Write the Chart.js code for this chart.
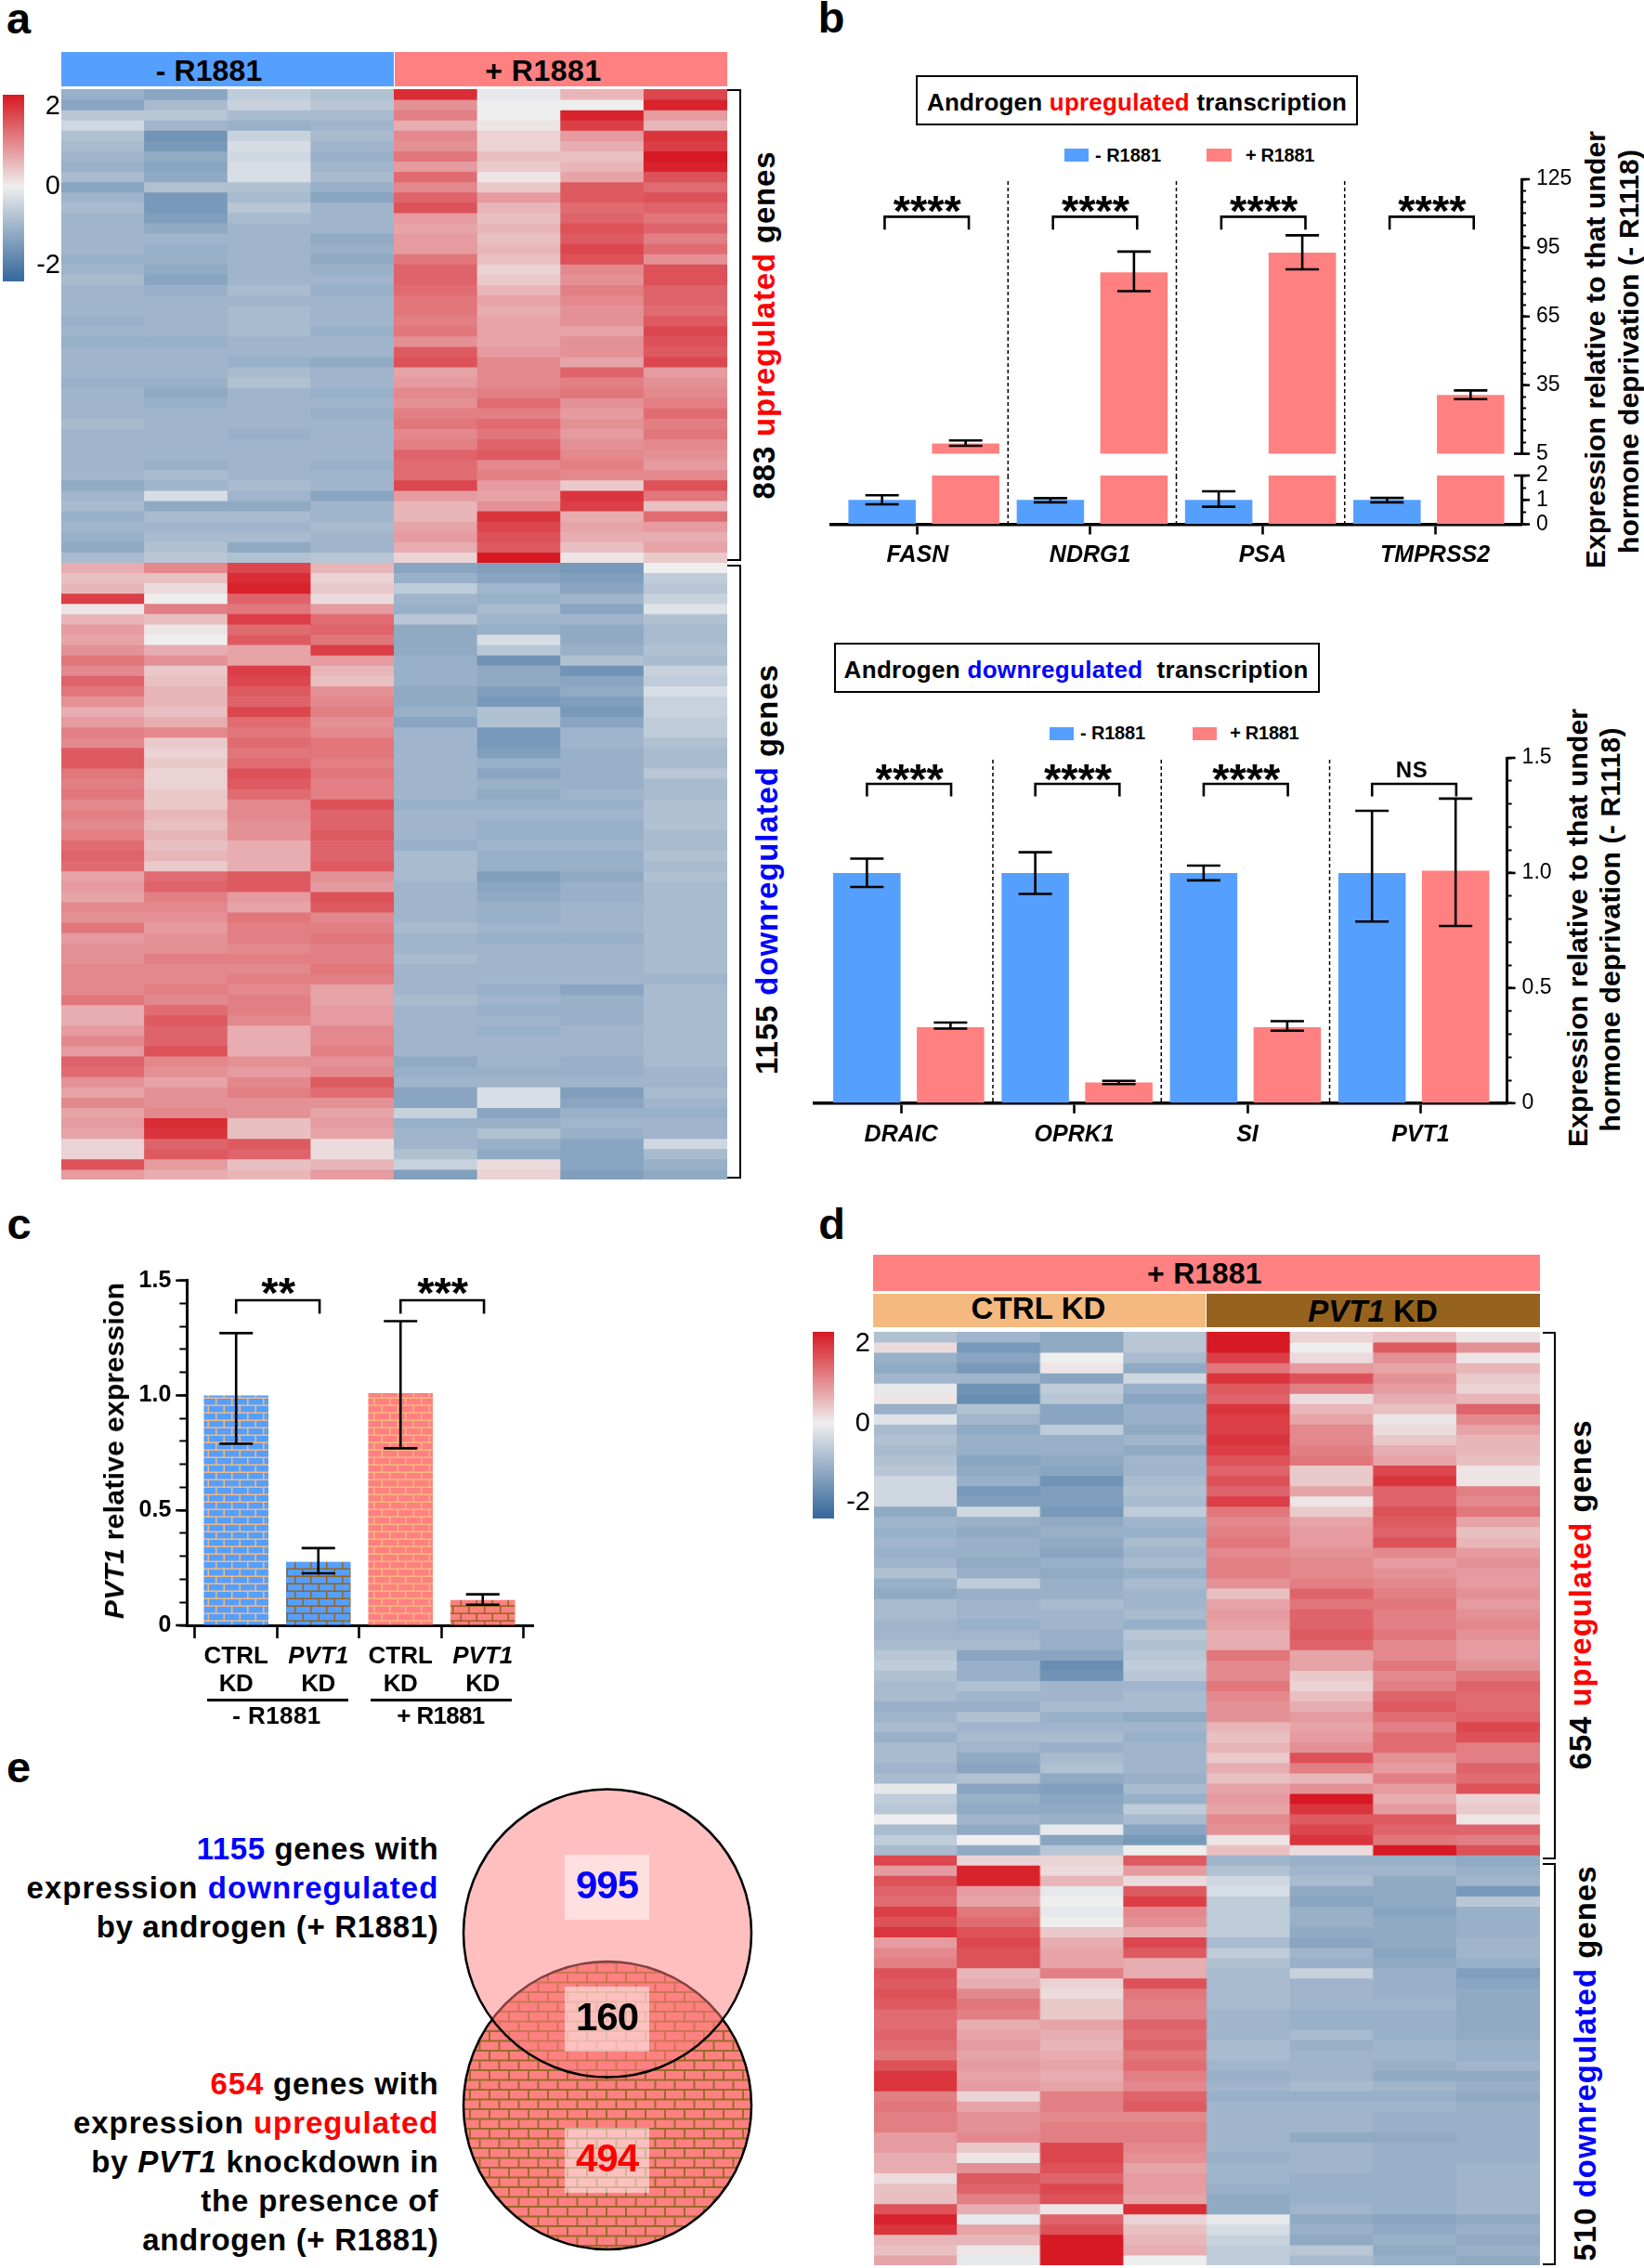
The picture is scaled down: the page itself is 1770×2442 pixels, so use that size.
<!DOCTYPE html>
<html>
<head>
<meta charset="utf-8">
<title>R1881 PVT1 figure</title>
<script src="https://cdn.jsdelivr.net/npm/chart.js@4"></script>
<style>
html, body { margin: 0; padding: 0; background: #fff; }
#page { position: relative; width: 1770px; height: 2442px; overflow: hidden; font-family: "Liberation Sans", Arial, sans-serif; color: #000; }
#page canvas, #page div { position: absolute; }
</style>
</head>
<body>
<div id="page"></div>
<script>
// heatmap cells, z-score x 10, one row per line, 4 - R1881 columns then 4 + R1881 columns
const heatAUp = [
[-11,-13,-6,-8,21,-1,6,18],[-13,-9,-5,-7,10,0,0,22],[-7,-7,-9,-9,12,0,22,9],[-4,-10,-11,-10,7,1,19,6],
[-8,-16,-5,-9,11,3,9,20],[-9,-15,-3,-10,10,3,7,19],[-10,-12,-4,-11,13,5,5,23],[-11,-13,-3,-10,9,4,6,22],
[-9,-12,-3,-9,14,1,8,17],[-13,-8,-8,-11,11,4,16,14],[-10,-15,-9,-13,15,9,16,17],[-9,-15,-7,-10,17,6,14,15],
[-10,-14,-9,-10,9,5,15,13],[-10,-12,-10,-10,8,6,17,15],[-10,-10,-10,-12,9,5,16,12],[-10,-11,-10,-11,9,6,18,14],
[-11,-11,-10,-12,13,5,17,10],[-10,-12,-10,-11,15,3,11,17],[-9,-13,-10,-10,15,4,10,17],[-10,-11,-9,-11,14,6,12,15],
[-10,-10,-10,-10,13,8,11,15],[-10,-10,-9,-10,13,7,10,14],[-11,-10,-9,-10,12,8,10,16],[-10,-10,-9,-11,13,8,8,18],
[-11,-11,-10,-10,10,8,10,17],[-10,-10,-10,-10,16,9,10,16],[-10,-10,-11,-12,17,11,8,18],[-10,-10,-9,-10,8,11,15,9],
[-11,-11,-8,-10,9,11,12,10],[-10,-12,-10,-11,11,12,13,11],[-10,-11,-10,-10,10,14,10,12],[-10,-10,-10,-11,12,12,9,14],
[-9,-10,-10,-10,13,14,10,12],[-10,-10,-11,-10,11,13,9,13],[-10,-10,-10,-10,12,15,10,11],[-10,-10,-10,-10,15,16,11,10],
[-10,-11,-10,-11,14,11,12,9],[-10,-9,-10,-10,14,12,11,11],[-12,-10,-9,-10,18,9,4,17],[-10,-3,-10,-13,9,8,20,13],
[-9,-12,-12,-10,6,10,19,5],[-11,-9,-9,-10,6,20,7,14],[-10,-10,-10,-9,8,18,8,9],[-11,-9,-9,-10,9,17,7,7],
[-12,-8,-12,-10,7,16,5,8],[-9,-7,-8,-7,3,24,1,4]
];
const heatADown = [
[7,11,18,6,-13,-14,-15,0],[5,5,21,3,-11,-13,-14,-6],[6,2,22,4,-6,-10,-13,-7],[19,0,15,2,-10,-11,-10,-5],
[1,12,13,9,-11,-9,-13,-2],[6,5,19,14,-7,-10,-10,-8],[9,1,14,15,-12,-11,-12,-9],[8,0,16,13,-12,-3,-12,-9],
[10,7,8,19,-12,-7,-11,-8],[13,10,8,9,-11,-16,-8,-9],[11,4,19,6,-11,-12,-16,-5],[15,5,18,5,-11,-12,-13,-6],
[13,6,16,10,-12,-14,-12,-3],[10,6,15,11,-12,-15,-14,-5],[7,5,18,12,-11,-8,-15,-5],[9,7,14,10,-13,-8,-13,-6],
[12,11,13,11,-10,-15,-10,-6],[11,4,14,13,-10,-15,-10,-8],[16,3,13,13,-10,-14,-11,-9],[16,4,14,12,-10,-11,-11,-9],
[13,3,17,13,-10,-13,-11,-7],[12,3,16,12,-10,-11,-11,-9],[13,4,14,12,-10,-12,-10,-9],[11,4,11,17,-11,-11,-11,-8],
[12,6,11,15,-10,-10,-10,-8],[11,5,10,15,-10,-11,-11,-8],[12,6,10,16,-10,-11,-11,-9],[14,5,7,15,-11,-10,-10,-9],
[15,6,7,15,-9,-11,-11,-8],[14,4,7,16,-9,-11,-11,-9],[8,14,16,10,-9,-14,-12,-8],[9,15,16,9,-10,-13,-11,-9],
[8,12,9,17,-10,-12,-11,-9],[11,11,8,16,-10,-11,-10,-9],[10,10,13,11,-10,-11,-10,-9],[13,9,12,12,-9,-10,-10,-9],
[9,10,12,13,-10,-11,-11,-9],[10,10,11,12,-10,-10,-10,-9],[10,12,12,12,-9,-10,-10,-9],[11,11,11,13,-10,-10,-10,-9],
[11,11,12,12,-10,-10,-10,-10],[11,12,11,8,-10,-11,-13,-9],[13,11,12,8,-9,-10,-11,-9],[7,14,12,9,-10,-11,-11,-9],
[7,16,11,9,-10,-10,-11,-9],[9,15,7,11,-10,-11,-10,-9],[11,15,7,11,-10,-10,-10,-9],[9,17,7,12,-10,-10,-10,-9],
[15,11,10,10,-12,-10,-11,-9],[14,10,9,11,-11,-11,-11,-10],[10,8,11,16,-10,-10,-10,-10],[8,10,12,14,-13,-3,-14,-9],
[11,10,10,10,-13,-3,-13,-10],[8,11,10,8,-5,-13,-11,-11],[9,21,5,9,-11,-11,-10,-10],[8,20,5,8,-10,-8,-11,-10],
[3,15,16,2,-10,-11,-13,-4],[3,16,15,2,-8,-12,-13,-9],[17,9,5,6,-5,2,-13,-11],[9,7,6,9,-14,3,-14,-12]
];
const heatDUp = [
[-8,-10,-12,-7,24,3,5,1],[2,-15,-12,-7,24,0,16,10],[-11,-13,0,-9,19,2,10,1],[-12,-15,1,-12,13,9,8,6],
[-10,-10,-13,-4,20,17,10,4],[-1,-16,-6,-11,16,12,9,3],[1,-17,-7,-13,15,2,7,6],[-11,-8,-13,-11,20,6,5,15],
[-2,-10,-13,-11,19,8,1,11],[-9,-12,-6,-12,19,11,2,8],[-8,-11,-11,-10,20,11,4,6],[-9,-11,-11,-12,19,12,7,6],
[-8,-13,-12,-10,17,13,8,5],[-7,-12,-13,-10,15,4,18,1],[-4,-11,-16,-9,17,4,20,1],[-4,-15,-14,-8,15,8,15,12],
[-4,-14,-14,-9,19,1,15,11],[-12,-4,-15,-6,13,4,17,13],[-10,-11,-12,-10,11,8,16,8],[-11,-12,-11,-11,12,9,15,5],
[-10,-11,-12,-9,13,9,17,6],[-11,-11,-13,-10,11,10,11,9],[-10,-12,-11,-9,12,11,9,10],[-8,-11,-12,-11,12,11,10,9],
[-11,-6,-11,-9,10,12,11,9],[-12,-11,-11,-10,5,15,12,10],[-9,-10,-9,-10,8,13,13,9],[-9,-10,-10,-9,9,15,12,10],
[-10,-11,-10,-11,8,15,12,11],[-10,-10,-11,-7,7,16,13,10],[-9,-9,-11,-8,7,15,11,9],[-7,-13,-13,-7,13,8,11,9],
[-6,-11,-17,-6,11,8,13,10],[-8,-11,-16,-7,11,4,11,13],[-9,-8,-10,-10,13,3,12,15],[-9,-10,-10,-9,11,5,15,14],
[-11,-11,-9,-9,10,7,16,14],[-10,-8,-11,-12,10,9,14,15],[-9,-10,-10,-10,6,8,12,18],[-11,-9,-9,-11,5,9,14,17],
[-9,-10,-11,-10,6,10,14,12],[-9,-12,-9,-10,4,17,10,12],[-10,-13,-8,-10,7,12,9,15],[-9,-8,-12,-11,5,6,12,14],
[-1,-13,-14,-9,8,10,9,17],[-6,-11,-13,-11,9,24,7,3],[-7,-12,-12,-6,8,20,9,4],[0,-10,-11,-9,11,16,16,1],
[-9,-12,-1,-13,10,18,15,15],[-6,0,-13,-15,1,20,13,12],[-9,-12,-7,0,5,2,23,17]
];
const heatDDown = [
[18,3,3,16,-10,-11,-11,-12],[9,22,2,9,-8,-10,-10,-11],[17,22,6,2,-4,-9,-12,-10],[15,9,-1,16,-3,-12,-12,-15],
[14,8,0,19,-6,-13,-12,-7],[19,13,-1,11,-6,-11,-13,-11],[17,14,0,10,-6,-11,-12,-11],[20,17,4,7,-6,-12,-12,-11],
[9,18,7,18,-9,-13,-12,-10],[11,17,8,16,-6,-10,-13,-10],[12,17,8,7,-8,-11,-12,-11],[17,6,12,7,-9,-5,-11,-14],
[16,7,3,17,-9,-10,-11,-13],[17,11,2,13,-9,-10,-11,-12],[16,13,4,12,-9,-10,-10,-12],[14,12,4,12,-10,-11,-11,-12],
[14,7,8,15,-10,-11,-11,-12],[15,8,7,14,-10,-9,-11,-12],[14,9,6,15,-9,-11,-10,-11],[13,8,7,13,-9,-10,-10,-11],
[17,9,8,14,-10,-10,-11,-10],[20,8,7,12,-11,-10,-12,-12],[20,9,8,11,-10,-9,-10,-11],[12,3,12,15,-11,-11,-11,-12],
[13,8,12,16,-10,-10,-10,-11],[12,10,11,11,-10,-10,-11,-11],[12,10,12,12,-10,-10,-11,-11],[9,11,12,12,-10,-12,-12,-11],
[9,4,18,11,-10,-10,-11,-11],[7,1,18,10,-11,-10,-11,-11],[7,10,17,8,-10,-10,-11,-10],[2,16,15,9,-10,-11,-11,-10],
[5,15,18,9,-11,-11,-11,-10],[5,12,17,8,-12,-11,-11,-10],[17,7,1,21,-12,-10,-11,-10],[22,-1,15,3,-1,-12,-13,-12],
[20,8,17,5,-3,-11,-12,-11],[6,6,25,6,-5,-12,-11,-12],[5,1,25,7,-6,-7,-12,-11],[8,-1,24,0,-6,-9,-11,-12]
];
const heatColumns = ['1','2','3','4','5','6','7','8'];

// panel b, upregulated genes (broken axis)
const upGenes = ['FASN','NDRG1','PSA','TMPRSS2'];
const upCtrl = [1,1,1,1];
const upCtrlLo = [0.82,0.9,0.72,0.9];
const upCtrlHi = [1.19,1.07,1.35,1.08];
const upAndro = [9.5,84.3,92.9,30.7];
const upAndroLo = [8.5,76.1,85.6,28.9];
const upAndroHi = [10.8,93.4,100.5,32.7];

// panel b, downregulated genes
const downGenes = ['DRAIC','OPRK1','SI','PVT1'];
const downCtrl = [1,1,1,1];
const downCtrlLo = [0.939,0.909,0.968,0.789];
const downCtrlHi = [1.062,1.09,1.032,1.27];
const downAndro = [0.33,0.09,0.33,1.01];
const downAndroLo = [0.324,0.083,0.315,0.77];
const downAndroHi = [0.35,0.097,0.356,1.323];

// panel c
const kdLabels = ['CTRL','PVT1','CTRL','PVT1'];
const kdValues = [1,0.276,1.01,0.11];
const kdLo = [0.79,0.226,0.77,0.09];
const kdHi = [1.271,0.336,1.323,0.135];

// panel e
const vennSets = ['1155 downregulated by androgen','654 upregulated by PVT1 knockdown'];
const vennY = [1,0];

const BLUE = '#559fff', RED = '#ff8080', TAN = '#f4b97f', BROWN = '#96631e';
const page = document.getElementById('page');

Chart.defaults.font.family = '"Liberation Sans", Arial, sans-serif';
Chart.defaults.color = '#000';
Chart.defaults.animation = false;
Chart.defaults.responsive = false;
Chart.defaults.devicePixelRatio = 1;
Chart.defaults.plugins.legend.display = false;
Chart.defaults.plugins.tooltip.enabled = false;

function canvas(x, y, w, h) {
    const c = document.createElement('canvas');
    c.width = w; c.height = h;
    c.style.left = x + 'px'; c.style.top = y + 'px';
    c.style.width = w + 'px'; c.style.height = h + 'px';
    page.appendChild(c);
    return c.getContext('2d');
}

function box(x, y, w, h, css) {
    const d = document.createElement('div');
    d.style.cssText = `left:${x}px;top:${y}px;width:${w}px;height:${h}px;${css}`;
    page.appendChild(d);
    return d;
}

// text centred on cx,cy, letter spaced out to a width w
function text(html, cx, cy, w, size, o = {}) {
    const d = document.createElement('div');
    d.innerHTML = html;
    d.style.cssText = `left:0;top:0;white-space:pre;font-size:${size}px;font-weight:${o.weight || 'bold'};`;
    page.appendChild(d);
    const n = d.textContent.length;
    if (n > 1) d.style.letterSpacing = (w - d.getBoundingClientRect().width) / (n - 1) + 'px';
    d.style.transformOrigin = '0 0';
    d.style.transform = `translate(${cx}px,${cy}px) rotate(${o.rot || 0}deg) translate(-50%,-50%)`;
}

const r = s => `<span style="color:#ff0000">${s}</span>`;
const b = s => `<span style="color:#0000ff">${s}</span>`;
const i = s => `<i>${s}</i>`;

function zColor(v) {
    const t = Math.max(-1, Math.min(1, v / 23));
    const mid = [238,238,238], hi = [215,25,35], lo = [59,108,158];
    const e = t > 0 ? hi : lo, a = Math.abs(t);
    return `rgb(${mid.map((m, k) => Math.round(m + (e[k] - m) * a)).join(',')})`;
}

// w is the brick pitch, h the height of one course
function brick(fill, mortar, w = 17, h = 8, t = 1.5) {
    const c = document.createElement('canvas');
    c.width = w; c.height = h * 2;
    const g = c.getContext('2d');
    g.fillStyle = fill; g.fillRect(0, 0, w, h * 2);
    g.fillStyle = mortar;
    g.fillRect(0, h - t, w, t); g.fillRect(0, h * 2 - t, w, t);
    g.fillRect(0, 0, t, h); g.fillRect(w / 2, h, t, h);
    return g.createPattern(c, 'repeat');
}

function heatmap(x, y, w, h, rows) {
    const datasets = rows.map(row => ({
        data: row.map(() => 1),
        backgroundColor: row.map(v => zColor(v)),
        barPercentage: 1, categoryPercentage: 1, inflateAmount: 0.5, borderWidth: 0
    }));
    new Chart(canvas(x, y, w, h), {
        type: 'bar',
        data: { labels: heatColumns, datasets },
        options: {
            layout: { padding: 0 },
            scales: {
                x: { display: false, stacked: true },
                y: { display: false, stacked: true, reverse: true, min: 0, max: rows.length }
            }
        }
    });
}

function colorbar(x, y) {
    new Chart(canvas(x, y - 25, 62, 251), {
        type: 'bar',
        data: { labels: ['z'], datasets: [{
            data: [[-2.4, 2.31]],
            barPercentage: 1, categoryPercentage: 1,
            backgroundColor: ctx => {
                const { chart } = ctx;
                if (!chart.chartArea) return '#eee';
                const s = chart.scales.y;
                const g = chart.ctx.createLinearGradient(0, s.getPixelForValue(2.3), 0, s.getPixelForValue(-2.3));
                g.addColorStop(0, zColor(23)); g.addColorStop(0.5, zColor(0)); g.addColorStop(1, zColor(-23));
                return g;
            }
        }] },
        options: {
            layout: { padding: { top: 25, bottom: 25 } },
            scales: {
                x: { display: false },
                y: {
                    position: 'right', min: -2.4, max: 2.31,
                    border: { display: false }, grid: { display: false },
                    afterFit: s => { s.width = 39; },
                    ticks: { stepSize: 2, includeBounds: false, crossAlign: 'far', padding: 5, font: { size: 29 } }
                }
            }
        }
    });
}

// error bars, dashed dividers, significance brackets, drawn through the chart's scales
function marks(cfg) {
    return {
        id: 'marks',
        afterDatasetsDraw(chart) {
            const g = chart.ctx, y = chart.scales.y, x = chart.scales[cfg.xId || 'xb'];
            g.save();
            g.strokeStyle = '#000'; g.fillStyle = '#000';
            (cfg.dividers || []).forEach(v => {
                g.lineWidth = 1.5; g.setLineDash([4, 3]);
                g.beginPath();
                g.moveTo(x.getPixelForValue(v), cfg.divTop);
                g.lineTo(x.getPixelForValue(v), cfg.divBottom);
                g.stroke();
            });
            g.setLineDash([]);
            (cfg.errs || []).forEach((e, d) => {
                const meta = chart.getDatasetMeta(d);
                e.lo.forEach((lo, k) => {
                    if (e.keep && !e.keep(e.v[k])) return;
                    const px = meta.data[k].x, y1 = y.getPixelForValue(lo), y2 = y.getPixelForValue(e.hi[k]);
                    g.lineWidth = 2.6;
                    g.beginPath();
                    g.moveTo(px, y1); g.lineTo(px, y2);
                    g.moveTo(px - 18, y1); g.lineTo(px + 18, y1);
                    g.moveTo(px - 18, y2); g.lineTo(px + 18, y2);
                    g.stroke();
                });
            });
            (cfg.brackets || []).forEach(k => {
                const x1 = x.getPixelForValue(k.a), x2 = x.getPixelForValue(k.b);
                const top = y.getPixelForValue(k.top), foot = y.getPixelForValue(k.foot);
                g.lineWidth = 2.6;
                g.beginPath();
                g.moveTo(x1, foot); g.lineTo(x1, top); g.lineTo(x2, top); g.lineTo(x2, foot);
                g.stroke();
                if (k.stars) {
                    g.font = 'bold 47px "Liberation Sans"';
                    g.textAlign = 'center'; g.textBaseline = 'alphabetic';
                    g.fillText(k.stars, (x1 + x2) / 2 + 0.5, top - cfg.starLift + 24);
                }
            });
            // long ticks on labelled values, short caps on the broken ends
            if (cfg.majorLen) {
                const ax = cfg.majorLen > 0 ? chart.chartArea.right : chart.chartArea.left;
                g.lineWidth = 2.6;
                y.ticks.forEach(t => {
                    if (!t.label) return;
                    const py = y.getPixelForValue(t.value);
                    g.beginPath(); g.moveTo(ax, py); g.lineTo(ax + cfg.majorLen, py); g.stroke();
                });
                (cfg.caps || []).forEach(v => {
                    const py = y.getPixelForValue(v);
                    g.beginPath(); g.moveTo(ax - 8, py); g.lineTo(ax, py); g.stroke();
                });
            }
            g.restore();
        }
    };
}

function toXY(arr) { return arr.map((v, k) => ({ x: k + 1, y: v })); }

function groupedBars(ctrl, andro) {
    return [
        { data: toXY(ctrl), backgroundColor: BLUE, xAxisID: 'xb', categoryPercentage: 0.993, barPercentage: 0.806 },
        { data: toXY(andro), backgroundColor: RED, xAxisID: 'xb', categoryPercentage: 0.993, barPercentage: 0.806 }
    ];
}

function hiddenX(min, max) {
    return { axis: 'x', type: 'linear', display: false, offset: false, min, max, ticks: { stepSize: 1, includeBounds: false } };
}

function yAxis(min, max, step, width, label, pad) {
    return {
        position: 'right', min, max,
        border: { display: true, color: '#000', width: 3 },
        grid: { drawOnChartArea: false, tickLength: 5, tickColor: '#000', tickWidth: 2 },
        afterFit: s => { s.width = width; },
        ticks: { stepSize: step, autoSkip: false, padding: pad, font: { size: 23 }, callback: v => label(v) }
    };
}

function geneAxis(height) {
    return {
        border: { display: true, color: '#000', width: 3.5 },
        grid: { drawOnChartArea: false, offset: false, tickLength: 11, tickColor: '#000', tickWidth: 2.6 },
        afterFit: s => { s.height = height; },
        ticks: { autoSkip: false, maxRotation: 0, padding: 8, font: { size: 25, style: 'italic', weight: 'bold' } }
    };
}

const dividers = [1.5, 2.5, 3.5];

// ---- panel a ----
text('a', 20, 19.7, 26, 47);
box(66, 56, 358, 37, `background:${BLUE}`);
box(425, 56, 358, 37, `background:${RED}`);
text('- R1881', 225, 76, 114.6, 32);
text('+ R1881', 585, 76, 125, 32);
heatmap(66, 96, 717, 1174, heatAUp.concat(heatADown));
colorbar(3, 102);
box(783, 96, 15, 508, 'border:solid #000;border-width:2.5px 2.5px 2.5px 0;box-sizing:border-box');
box(783, 608, 15, 661, 'border:solid #000;border-width:2.5px 2.5px 2.5px 0;box-sizing:border-box');
text(`883 ${r('upregulated')} genes`, 823, 350, 374, 33, { rot: -90 });
text(`1155 ${b('downregulated')} genes`, 825.5, 936, 441, 33, { rot: -90 });

// ---- panel b, upper ----
text('b', 895, 18.7, 27, 47);
box(986, 81, 476, 54, 'border:2.5px solid #000;box-sizing:border-box');
text(`Androgen ${r('upregulated')} transcription`, 1224, 110, 452, 26);
box(1146, 160, 26, 14, `background:${BLUE}`);
text('- R1881', 1214.5, 167, 71, 20);
box(1299, 160, 27, 14, `background:${RED}`);
text('+ R1881', 1378, 167, 74.5, 20);

new Chart(canvas(880, 150, 820, 369), {
    type: 'bar',
    data: { labels: upGenes, datasets: groupedBars(upCtrl, upAndro) },
    options: {
        layout: { padding: { left: 15, top: 43, bottom: 30.4 } },
        scales: {
            xb: hiddenX(0.45, 4.55),
            x: { display: false },
            y: yAxis(5, 125, 5, 62, v => ((v - 5) % 30 === 0 ? String(v) : ''), 11)
        }
    },
    plugins: [marks({
        dividers, divTop: 45, divBottom: 362, majorLen: 9, caps: [5],
        errs: [
            { v: upCtrl, lo: upCtrlLo, hi: upCtrlHi, keep: v => v > 5 },
            { v: upAndro, lo: upAndroLo, hi: upAndroHi, keep: v => v > 5 }
        ],
        starLift: 14,
        brackets: upGenes.map((g, k) => ({ a: k + 0.767, b: k + 1.267, top: 108.6, foot: 103, stars: '****' }))
    })]
});

new Chart(canvas(880, 470, 820, 160), {
    type: 'bar',
    data: { labels: upGenes, datasets: groupedBars(upCtrl, upAndro) },
    options: {
        layout: { padding: { left: 15, top: 42 } },
        scales: {
            xb: hiddenX(0.45, 4.55),
            x: geneAxis(65.5),
            y: yAxis(0, 2, 0.5, 62, v => (Number.isInteger(v) ? String(v) : ''), 11)
        }
    },
    plugins: [marks({
        dividers, divTop: 42, divBottom: 94, majorLen: 9, caps: [2],
        errs: [
            { v: upCtrl, lo: upCtrlLo, hi: upCtrlHi, keep: v => v <= 2 },
            { v: upAndro, lo: upAndroLo, hi: upAndroHi, keep: v => v <= 2 }
        ]
    })]
});
text('Expression relative to that under', 1718, 376.5, 471, 30, { rot: -90 });
text('hormone deprivation (- R1118)', 1754, 378.5, 435, 30, { rot: -90 });

// ---- panel b, lower ----
box(897.7, 692, 523, 53.7, 'border:2.5px solid #000;box-sizing:border-box');
text(`Androgen ${b('downregulated')}  transcription`, 1158.6, 721, 499.7, 26);
box(1130, 783, 26, 14, `background:${BLUE}`);
text('- R1881', 1198, 789.6, 70, 20);
box(1283.7, 783, 26, 14, `background:${RED}`);
text('+ R1881', 1361.3, 789.6, 74.6, 20);

new Chart(canvas(860, 770, 820, 480), {
    type: 'bar',
    data: { labels: downGenes, datasets: groupedBars(downCtrl, downAndro) },
    options: {
        layout: { padding: { left: 17, top: 46 } },
        scales: {
            xb: hiddenX(0.441, 4.554),
            x: geneAxis(62.2),
            y: yAxis(0, 1.5, 0.1, 57.4, v => {
                const t = Math.round(v * 10);
                return t % 5 !== 0 ? '' : (t === 0 ? '0' : (t / 10).toFixed(1));
            }, 11)
        }
    },
    plugins: [marks({
        dividers, divTop: 48, divBottom: 417, majorLen: 9,
        errs: [
            { v: downCtrl, lo: downCtrlLo, hi: downCtrlHi },
            { v: downAndro, lo: downAndroLo, hi: downAndroHi }
        ],
        starLift: 13,
        brackets: downGenes.map((g, k) => ({ a: k + 0.752, b: k + 1.252, top: 1.387, foot: 1.333, stars: k < 3 ? '****' : '' }))
    })]
});
text('NS', 1520, 828.7, 34, 24);
text('Expression relative to that under', 1698.6, 999, 472, 30, { rot: -90 });
text('hormone deprivation (- R1118)', 1733.5, 1001, 435, 30, { rot: -90 });

// ---- panel c ----
text('c', 20.5, 1317.3, 25, 47);
const kdFill = [brick(BLUE, TAN), brick(BLUE, BROWN), brick(RED, TAN), brick(RED, BROWN)];
new Chart(canvas(130, 1330, 460, 470), {
    type: 'bar',
    data: { labels: kdLabels, datasets: [{
        data: toXY(kdValues), backgroundColor: kdFill, categoryPercentage: 1, barPercentage: 0.786
    }] },
    options: {
        layout: { padding: { top: 48.7, right: 16 } },
        scales: {
            x: {
                type: 'linear', offset: false, min: 0.402, max: 4.613,
                border: { display: true, color: '#000', width: 3 },
                grid: { drawOnChartArea: false, tickLength: 14, tickColor: '#000', tickWidth: 2.6 },
                afterFit: s => { s.height = 50; },
                ticks: {
                    stepSize: 1, includeBounds: false, autoSkip: false, maxRotation: 0, padding: 4,
                    callback: v => kdLabels[v - 1],
                    font: ctx => ({ size: 26, weight: 'bold', style: kdLabels[ctx.index] === 'PVT1' ? 'italic' : 'normal' })
                }
            },
            y: {
                min: 0, max: 1.5,
                border: { display: true, color: '#000', width: 3 },
                grid: { drawOnChartArea: false, tickLength: 8, tickColor: '#000', tickWidth: 2 },
                afterFit: s => { s.width = 71.3; },
                ticks: {
                    stepSize: 0.1, autoSkip: false, padding: 9, font: { size: 25, weight: 'bold' },
                    callback: v => {
                        const t = Math.round(v * 10);
                        return t % 5 !== 0 ? '' : (t === 0 ? '0' : (t / 10).toFixed(1));
                    }
                }
            }
        }
    },
    plugins: [marks({
        xId: 'x', majorLen: -12,
        errs: [{ v: kdValues, lo: kdLo, hi: kdHi }],
        starLift: 16,
        brackets: [
            { a: 1, b: 2.015, top: 1.414, foot: 1.355, stars: '**' },
            { a: 3, b: 4.015, top: 1.414, foot: 1.355, stars: '***' }
        ]
    })]
});
['254', '342.5', '431', '519.5'].forEach(x => text('KD', +x, 1812, 37, 26));
box(222.7, 1829, 152.3, 2.5, 'background:#000');
box(399, 1829, 152, 2.5, 'background:#000');
text('- R1881', 298, 1847.5, 95, 26);
text('+ R1881', 474.5, 1847.5, 95, 26);
text(`${i('PVT1')} relative expression`, 123, 1562, 362, 30, { rot: -90 });

// ---- panel d ----
text('d', 895.5, 1317.7, 27, 47);
box(940, 1351, 717.5, 38.5, `background:${RED}`);
box(940, 1392.6, 358, 36, `background:${TAN}`);
box(1299, 1392.6, 358.5, 36, `background:${BROWN}`);
text('+ R1881', 1297, 1371.5, 123.5, 32);
text('CTRL KD', 1118, 1409.4, 145, 33);
text(`${i('PVT1')} KD`, 1478, 1411.7, 139.5, 33);
heatmap(941, 1434, 716.5, 1005, heatDUp.concat(heatDDown));
colorbar(874.5, 1434);
box(1661, 1434, 14, 568, 'border:solid #000;border-width:2.5px 2.5px 2.5px 0;box-sizing:border-box');
box(1661, 2006, 14, 433, 'border:solid #000;border-width:2.5px 2.5px 2.5px 0;box-sizing:border-box');
text(`654 ${r('upregulated')} genes`, 1701.5, 1717, 376, 33, { rot: -90 });
text(`510 ${b('downregulated')} genes`, 1707, 2221.5, 425, 33, { rot: -90 });

// ---- panel e ----
text('e', 20, 1902.7, 26, 47);
const vennTop = 1915, vennH = 520;
new Chart(canvas(484, vennTop, 340, vennH), {
    type: 'bubble',
    data: { datasets: [
        { label: vennSets[0], data: [{ x: 0, y: vennY[0], r: 155 }], backgroundColor: 'rgba(255,128,128,0.5)', borderColor: '#000', borderWidth: 2.5, clip: false, order: 1 },
        { label: vennSets[1], data: [{ x: 0, y: vennY[1], r: 155 }], backgroundColor: brick(RED, '#9b6a2a', 21, 10.5, 2), borderColor: '#000', borderWidth: 2.5, clip: false, order: 2 }
    ] },
    options: {
        layout: { padding: 0, autoPadding: false },
        scales: {
            x: { display: false, min: -1, max: 1 },
            y: { display: false, min: -0.906, max: 1.8986 }
        }
    }
});
box(608, 1996.5, 91, 70, 'background:rgba(255,255,255,0.5)');
box(608, 2139, 91, 70, 'background:rgba(255,255,255,0.5)');
box(608, 2291, 91, 70, 'background:rgba(255,255,255,0.5)');
text(b('995'), 653.5, 2030, 68, 42);
text('160', 653.5, 2172, 68, 42);
text(r('494'), 653.5, 2324, 68, 42);

text(`${b('1155')} genes with`, 342, 1991, 260, 33);
text(`expression ${b('downregulated')}`, 250.5, 2033.4, 443, 33);
text('by androgen (+ R1881)', 288, 2075, 368, 33);
text(`${r('654')} genes with`, 349.5, 2243.8, 245, 33);
text(`expression ${r('upregulated')}`, 275.7, 2285.7, 392.5, 33);
text(`by ${i('PVT1')} knockdown in`, 285.3, 2328, 373.3, 33);
text('the presence of', 344.3, 2370, 255.3, 33);
text('androgen (+ R1881)', 312.8, 2412, 318.4, 33);
</script>
</body>
</html>
